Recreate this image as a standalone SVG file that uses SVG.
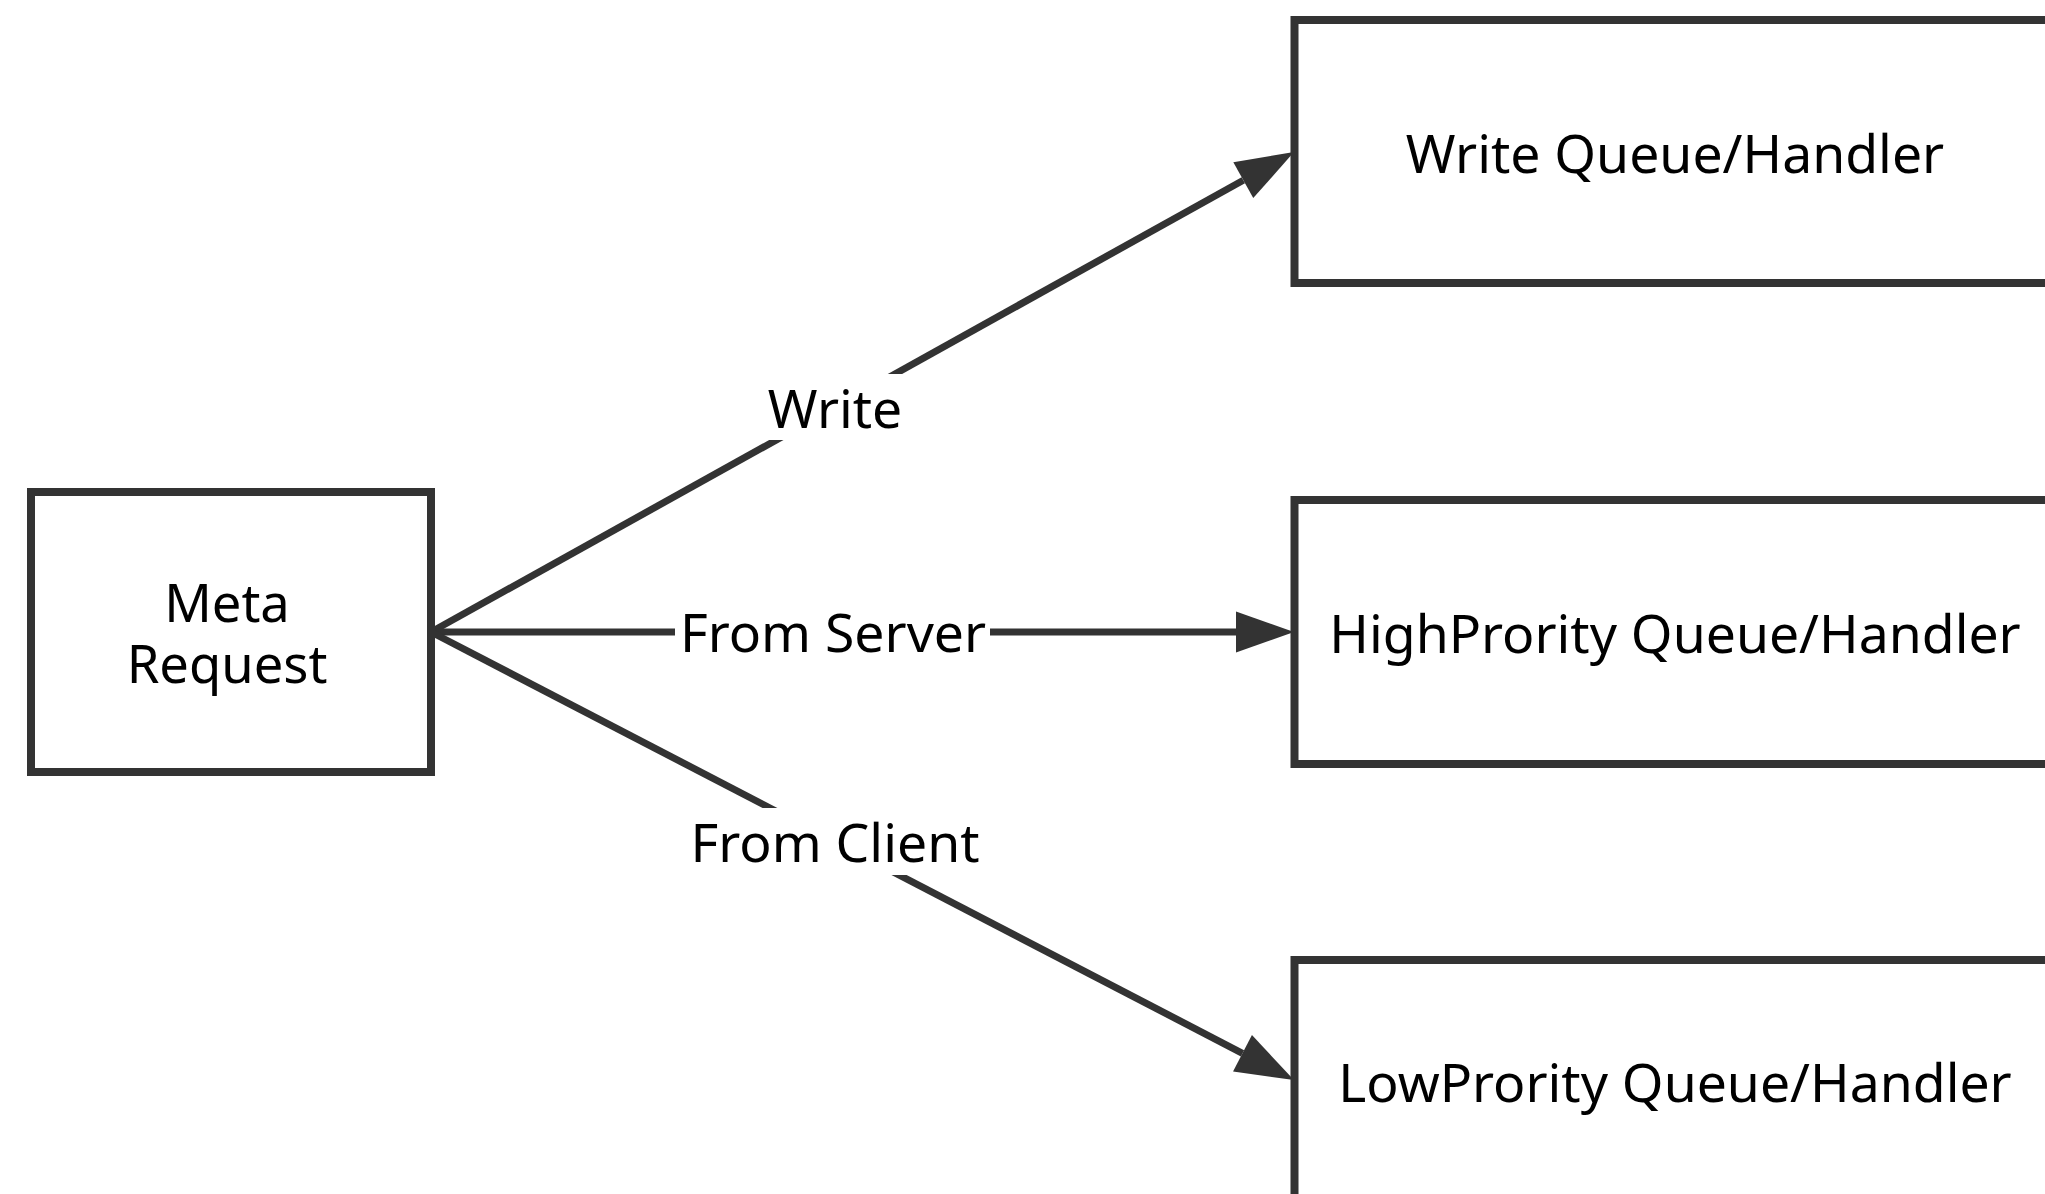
<svg xmlns="http://www.w3.org/2000/svg" width="2045" height="1194" viewBox="0 0 2045 1194">
  <style>
    .box { fill: #ffffff; stroke: #333333; stroke-width: 8; }
    .edge { fill: none; stroke: #333333; stroke-width: 7; }
    .lbl { font-family: "Noto Sans", "Open Sans", sans-serif; font-size: 53.5px; fill: #000000; text-anchor: middle; }
    .small { font-size: 52.5px; }
    .mask { fill: #ffffff; stroke: none; }
  </style>
  <defs>
    <marker id="arrow" markerUnits="userSpaceOnUse" markerWidth="60" markerHeight="42" refX="0" refY="20.5" orient="auto" overflow="visible">
      <path d="M0,0 L58,20.5 L0,41 Z" fill="#333333"/>
    </marker>
  </defs>
  <rect width="2045" height="1194" fill="#ffffff"/>

  <!-- connectors from Meta Request to each queue -->
  <g id="connectors">
    <g id="edge-write">
      <line class="edge" x1="431" y1="632" x2="1243.3" y2="180.2" marker-end="url(#arrow)"/>
      <rect class="mask" x="768" y="374" width="134" height="66"/>
      <text class="lbl" x="835" y="428">Write</text>
    </g>
    <g id="edge-server">
      <line class="edge" x1="431" y1="632" x2="1236" y2="632" marker-end="url(#arrow)"/>
      <rect class="mask" x="675" y="600" width="315" height="66"/>
      <text class="lbl" x="833" y="652">From Server</text>
    </g>
    <g id="edge-client">
      <line class="edge" x1="431" y1="632" x2="1242.5" y2="1053.3" marker-end="url(#arrow)"/>
      <rect class="mask" x="690" y="808" width="290" height="67"/>
      <text class="lbl" x="835" y="862">From Client</text>
    </g>
  </g>

  <g id="meta-request">
    <rect class="box" x="31" y="492" width="400" height="280"/>
    <text class="lbl small" x="227" y="622">Meta</text>
    <text class="lbl small" x="227" y="683">Request</text>
  </g>

  <g id="write-queue">
    <rect class="box" x="1294.5" y="20" width="800" height="263"/>
    <text class="lbl" x="1675" y="173">Write Queue/Handler</text>
  </g>

  <g id="high-queue">
    <rect class="box" x="1294.5" y="500" width="800" height="264"/>
    <text class="lbl" x="1675" y="653">HighPrority Queue/Handler</text>
  </g>

  <g id="low-queue">
    <rect class="box" x="1294.5" y="960" width="800" height="300"/>
    <text class="lbl" x="1675" y="1102">LowPrority Queue/Handler</text>
  </g>
</svg>
